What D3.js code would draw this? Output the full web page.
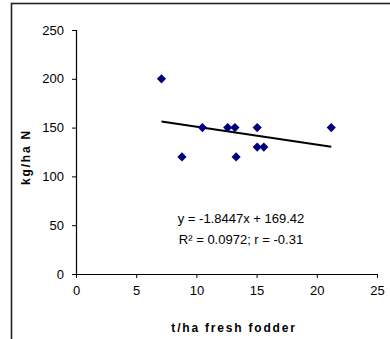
<!DOCTYPE html>
<html>
<head>
<meta charset="utf-8">
<script src="https://cdn.jsdelivr.net/npm/d3@7"></script>
<style>
  body { margin: 0; background: #fff; }
  text { font-family: Arial, "Liberation Sans", sans-serif; fill: #000; }
</style>
</head>
<body>
<div id="chart"></div>
<script>
// data
var fodder = [7.1, 8.8, 10.5, 12.6, 13.2, 13.3, 15.05, 15.05, 15.6, 21.2];
var nitrogen = [200, 120, 150, 150, 150, 120, 150, 130, 130, 150];
var xTicks = [0, 5, 10, 15, 20, 25];
var yTicks = [0, 50, 100, 150, 200, 250];
var slope = -1.8447;
var intercept = 169.42;
var eqLines = ['y = -1.8447x + 169.42', 'R\u00b2 = 0.0972; r = -0.31'];

var svgWidth = 390;
var svgHeight = 339;

var margin = { top: 30, right: 13, bottom: 65, left: 76 };
var width = svgWidth - margin.left - margin.right;
var height = svgHeight - margin.top - margin.bottom;

var svg = d3.select('#chart').append('svg')
    .attr('width', svgWidth)
    .attr('height', svgHeight);

// outer frame (only top and left edges are visible in the crop)
svg.append('rect')
    .attr('x', 11.5)
    .attr('y', 3.5)
    .attr('width', 420)
    .attr('height', 360)
    .attr('fill', 'none')
    .attr('stroke', '#222')
    .attr('stroke-width', 1.6);

var g = svg.append('g')
    .attr('transform', `translate(${margin.left}, ${margin.top})`);

var x = d3.scaleLinear().domain([0, 25]).range([0, width]);
var y = d3.scaleLinear().domain([0, 250]).range([height, 0]);

var xAxis = g.append('g')
    .attr('transform', `translate(0, ${height})`)
    .call(d3.axisBottom(x).tickValues(xTicks).tickSize(4).tickPadding(8));

var yAxis = g.append('g')
    .call(d3.axisLeft(y).tickValues(yTicks).tickSize(4).tickPadding(8));

[xAxis, yAxis].forEach(function(a) {
    a.selectAll('.domain').attr('stroke', '#000').attr('stroke-width', 1.2);
    a.selectAll('.tick line').attr('stroke', '#000');
    a.selectAll('.tick text')
        .attr('font-size', '13px')
        .attr('font-family', 'Arial, "Liberation Sans", sans-serif');
});
xAxis.select('.domain').attr('d', `M0,0.5H${width}`);
yAxis.select('.domain').attr('d', `M0.5,0V${height}`);

// trendline over the data range
var xMin = d3.min(fodder), xMax = d3.max(fodder);
g.append('line')
    .attr('x1', x(xMin))
    .attr('y1', y(slope * xMin + intercept))
    .attr('x2', x(xMax))
    .attr('y2', y(slope * xMax + intercept))
    .attr('stroke', '#000')
    .attr('stroke-width', 2);

// diamond markers
var diamond = d3.symbol().type(d3.symbolSquare).size(42);
g.selectAll('.pt')
    .data(fodder)
    .enter()
    .append('path')
    .attr('class', 'pt')
    .attr('d', diamond)
    .attr('transform', (d, i) => `translate(${x(d)}, ${y(nitrogen[i])}) rotate(45)`)
    .attr('fill', '#000080');

// equation text
g.selectAll('.eq')
    .data(eqLines)
    .enter()
    .append('text')
    .attr('class', 'eq')
    .attr('x', 165)
    .attr('y', (d, i) => 193 + i * 21)
    .attr('text-anchor', 'middle')
    .attr('font-size', '13px')
    .text(d => d);

// axis titles
svg.append('text')
    .attr('x', 234)
    .attr('y', 332)
    .attr('text-anchor', 'middle')
    .attr('font-size', '12px')
    .attr('font-weight', 'bold')
    .attr('letter-spacing', '1.8px')
    .text('t/ha fresh fodder');

svg.append('text')
    .attr('transform', 'translate(30, 157) rotate(-90)')
    .attr('text-anchor', 'middle')
    .attr('font-size', '12px')
    .attr('font-weight', 'bold')
    .attr('letter-spacing', '1.8px')
    .text('kg/ha N');
</script>
</body>
</html>
